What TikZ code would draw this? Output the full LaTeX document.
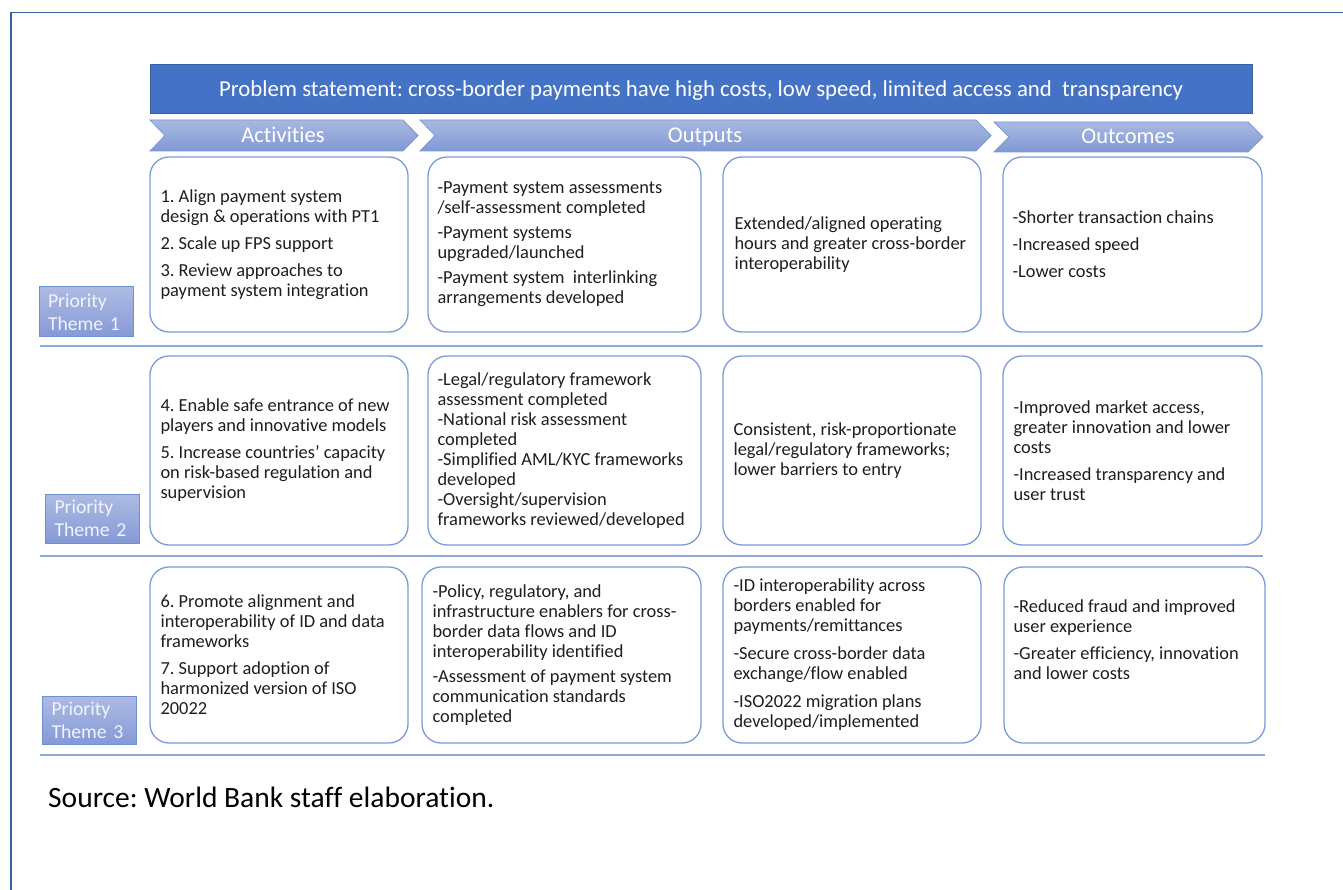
\documentclass[tikz,border=0pt]{standalone}
\usepackage{fontspec}
\setmainfont{Carlito}[Ligatures=NoCommon]
\frenchspacing
\definecolor{framec}{HTML}{3A5FA0}
\definecolor{bannerc}{HTML}{4472C4}
\definecolor{chevt}{HTML}{A9B8E1}
\definecolor{chevbt}{HTML}{8099D4}
\definecolor{chevb}{HTML}{7C98D4}
\definecolor{cellc}{HTML}{7B9BDA}
\definecolor{sepc}{HTML}{8EA9DC}
\definecolor{priot}{HTML}{ADBBE3}
\definecolor{priobt}{HTML}{8599D6}
\definecolor{priob}{HTML}{6F8FD3}
\definecolor{priotx}{HTML}{F2F4FB}
\definecolor{txtc}{HTML}{1E1E1E}
\begin{document}
\begin{tikzpicture}[x=1pt,y=-1pt,
  cell/.style={draw=cellc, line width=1.3pt, rounded corners=19pt, fill=white, inner sep=0pt},
  txt/.style={anchor=west, align=left, inner sep=0pt, text=txtc, font=\fontsize{18.4}{20}\selectfont},
  chev/.style={draw=chevb, line width=0.8pt, top color=chevt, bottom color=chevbt},
  chevlab/.style={text=white, inner sep=0pt, anchor=base, font=\fontsize{22.5}{26}\selectfont},
  prio/.style={draw=priob, line width=1pt, top color=priot, bottom color=priobt, inner xsep=9pt, inner ysep=0pt, text width=76pt, align=left, text=priotx, font=\fontsize{19.7}{23}\selectfont},
  sep/.style={draw=sepc, line width=1.5pt}]

\useasboundingbox (0,0) rectangle (1343,890);
\fill[white] (0,0) rectangle (1343,890);
\draw[framec, line width=1.3pt] (1343,12.5) -- (11,12.5) -- (11,890);

% banner
\node[fill=bannerc, draw=bannerc!85!black, line width=0.6pt, minimum width=1102pt, minimum height=49pt, inner sep=0pt] (prob) at (701,88.5) {};
\node[anchor=base, inner sep=0pt, text=white, font=\fontsize{22.8}{26}\selectfont] (probt) at (701,96.5)
  {Problem statement: cross-border payments have high costs, low speed, limited access and\ \ transparency};

% chevrons
\path[chev] (150,120) -- (403,120) -- (418,135.5) -- (403,151) -- (150,151) -- (165,135.5) -- cycle;
\path[chev] (420,120) -- (976,120) -- (991,135.5) -- (976,151) -- (420,151) -- (435,135.5) -- cycle;
\path[chev] (994,122) -- (1248,122) -- (1263,137) -- (1248,152) -- (994,152) -- (1009,137) -- cycle;
\node[chevlab] (act) at (283,143) {Activities};
\node[chevlab] (outp) at (705,143) {Outputs};
\node[chevlab] (outc) at (1128,144) {Outcomes};

% row 1
\node[cell, minimum width=258pt, minimum height=175pt] (r1a) at (279,244.5) {};
\node[cell, minimum width=273pt, minimum height=175pt] (r1b) at (564.5,244.5) {};
\node[cell, minimum width=258pt, minimum height=175pt] (r1c) at (852,244.5) {};
\node[cell, minimum width=259pt, minimum height=175pt] (r1d) at (1132.5,244.5) {};
\node[txt] (r1at) at ([xshift=11pt]r1a.west) {1. Align payment system\\design \& operations with PT1\\[7pt]2. Scale up FPS support\\[7pt]3. Review approaches to\\payment system integration};
\node[txt] (r1bt) at ([xshift=10pt]r1b.west) {-Payment system assessments\\/self-assessment completed\\[5pt]-Payment systems\\upgraded/launched\\[5pt]-Payment system\ \ interlinking\\arrangements developed};
\node[txt] (r1ct) at ([xshift=12pt]r1c.west) {Extended/aligned operating\\hours and greater cross-border\\interoperability};
\node[txt] (r1dt) at ([xshift=10pt]r1d.west) {-Shorter transaction chains\\[7pt]-Increased speed\\[7pt]-Lower costs};

% row 2
\node[cell, minimum width=258pt, minimum height=189pt] (r2a) at (279,450.5) {};
\node[cell, minimum width=273pt, minimum height=189pt] (r2b) at (564.5,450.5) {};
\node[cell, minimum width=258pt, minimum height=189pt] (r2c) at (852,450.5) {};
\node[cell, minimum width=259pt, minimum height=189pt] (r2d) at (1132.5,450.5) {};
\node[txt] (r2at) at ([xshift=11pt]r2a.west) {4. Enable safe entrance of new\\players and innovative models\\[7pt]5. Increase countries’ capacity\\on risk-based regulation and\\supervision};
\node[txt] (r2bt) at ([xshift=10pt]r2b.west) {-Legal/regulatory framework\\assessment completed\\-National risk assessment\\completed\\-Simplified AML/KYC frameworks\\developed\\-Oversight/supervision\\frameworks reviewed/developed};
\node[txt] (r2ct) at ([xshift=11pt]r2c.west) {Consistent, risk-proportionate\\legal/regulatory frameworks;\\lower barriers to entry};
\node[txt] (r2dt) at ([xshift=11pt]r2d.west) {-Improved market access,\\greater innovation and lower\\costs\\[7pt]-Increased transparency and\\user trust};

% row 3
\node[cell, minimum width=258pt, minimum height=176pt] (r3a) at (279,655) {};
\node[cell, minimum width=279pt, minimum height=176pt] (r3b) at (561.5,655) {};
\node[cell, minimum width=258pt, minimum height=176pt] (r3c) at (852,655) {};
\node[cell, minimum width=261pt, minimum height=176pt] (r3d) at (1134.5,655) {};
\node[txt] (r3at) at ([xshift=11pt]r3a.west) {6. Promote alignment and\\interoperability of ID and data\\frameworks\\[7pt]7. Support adoption of\\harmonized version of ISO\\20022};
\node[txt] (r3bt) at ([xshift=11pt]r3b.west) {-Policy, regulatory, and\\infrastructure enablers for cross-\\border data flows and ID\\interoperability identified\\[5pt]-Assessment of payment system\\communication standards\\completed};
\node[txt] (r3ct) at ([xshift=11pt]r3c.west) {-ID interoperability across\\borders enabled for\\payments/remittances\\[8pt]-Secure cross-border data\\exchange/flow enabled\\[8pt]-ISO2022 migration plans\\developed/implemented};
\node[txt] (r3dt) at ([xshift=10pt,yshift=15pt]r3d.west) {-Reduced fraud and improved\\user experience\\[7pt]-Greater efficiency, innovation\\and lower costs};

% separators
\coordinate (s1a) at (40,346); \coordinate (s1b) at (1263,346);
\coordinate (s2a) at (40,556); \coordinate (s2b) at (1263,556);
\coordinate (s3a) at (40,755); \coordinate (s3b) at (1265,755);
\draw[sep] (s1a) -- (s1b);
\draw[sep] (s2a) -- (s2b);
\draw[sep] (s3a) -- (s3b);

% priority themes
\node[prio, minimum width=94pt, minimum height=50pt] (pt1) at (86,312) {Priority\\Theme 1};
\node[prio, minimum width=93pt, minimum height=49pt] (pt2) at (92.5,518.5) {Priority\\Theme 2};
\node[prio, minimum width=93pt, minimum height=48pt] (pt3) at (89.5,720) {Priority\\Theme 3};

% source
\node[anchor=west, inner sep=0pt, text=black, font=\fontsize{29.5}{34}\selectfont] (src) at (48,797) {Source: World Bank staff elaboration.};
\end{tikzpicture}
\end{document}
